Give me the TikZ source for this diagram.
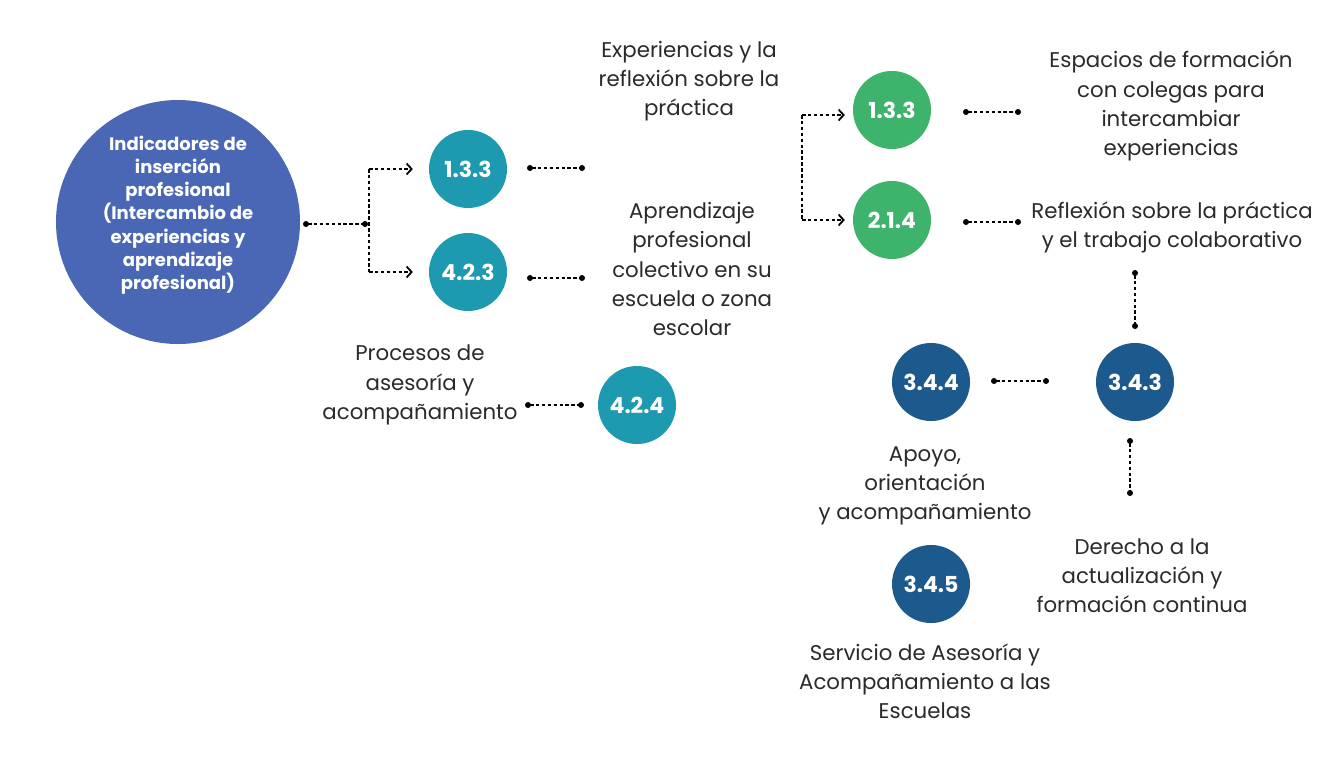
\documentclass[tikz,border=0pt]{standalone}
\usepackage{fontspec}
\setmainfont{Poppins}
\usetikzlibrary{arrows.meta}
\definecolor{bigblue}{HTML}{4A67B6}
\definecolor{cteal}{HTML}{1E9AB0}
\definecolor{cgreen}{HTML}{3DB36B}
\definecolor{cdark}{HTML}{1C5A8E}
\definecolor{ctext}{HTML}{2A2A2A}
\begin{document}
\begin{tikzpicture}[x=1pt,y=-1pt,
  bigc/.style={circle,fill=bigblue,minimum size=244pt,inner sep=0pt},
  bigt/.style={text=white,align=center,inner sep=0pt,font=\bfseries\fontsize{18}{23.2}\selectfont},
  numc/.style={circle,minimum size=78pt,inner sep=0pt,text=white,font=\bfseries\fontsize{22}{24}\selectfont},
  lbl/.style={align=center,text=ctext,font=\fontsize{21.3}{29.2}\selectfont,inner sep=0pt},
  dv/.style={line width=1.8pt,dash pattern=on 3.5pt off 2.4pt},
  dl/.style={dv,shorten <=2pt,shorten >=2pt},
  da/.style={line width=1.8pt,dash pattern=on 3.5pt off 2.4pt,-{Straight Barb[length=5pt,width=11pt,line width=1.8pt]}},
  dot/.style={fill=black}
]
\useasboundingbox (0,0) rectangle (1343,766);
\fill[white] (0,0) rectangle (1343,766);

% main circle
\node[bigc] (main) at (178,222) {};
\node[bigt] (maintext) at ([yshift=7pt]main.center) {Indicadores de\\inserción\\profesional\\(Intercambio de\\experiencias y\\aprendizaje\\profesional)};

% teal circles
\node[numc,fill=cteal] (t133) at (468,169) {1.3.3};
\node[numc,fill=cteal] (t423) at (468,272) {4.2.3};
\node[numc,fill=cteal] (t424) at (637,405) {4.2.4};

% green circles
\node[numc,fill=cgreen] (g133) at (892,110) {1.3.3};
\node[numc,fill=cgreen] (g214) at (892,220) {2.1.4};

% dark blue circles
\node[numc,fill=cdark] (d343) at (1135,382) {3.4.3};
\node[numc,fill=cdark] (d344) at (931,382) {3.4.4};
\node[numc,fill=cdark] (d345) at (931,584) {3.4.5};

% labels
\node[lbl] (lexp) at (689,81) {Experiencias y la\\reflexión sobre la\\práctica};
\node[lbl] (lapr) at (692,269) {Aprendizaje\\profesional\\colectivo en su\\escuela o zona\\escolar};
\node[lbl] (lpro) at (420,385) {Procesos de\\asesoría y\\acompañamiento};
\node[lbl] (lesp) at (1171,106) {Espacios de formación\\con colegas para\\intercambiar\\experiencias};
\node[lbl] (lref) at (1172,227) {Reflexión sobre la práctica\\y el trabajo colaborativo};
\node[lbl] (lder) at (1142,576) {Derecho a la\\actualización y\\formación continua};
\node[lbl] (lapo) at (925,486) {Apoyo,\\orientación\\y acompañamiento};
\node[lbl] (lser) at (925,681) {Servicio de Asesoría y\\Acompañamiento a las\\Escuelas};

% coordinates for connectors
\coordinate (m1) at (306,224);
\coordinate (m2) at (365,224);
\coordinate (va) at (369,169);
\coordinate (vb) at (369,272);
\coordinate (gva) at (802,115);
\coordinate (gvb) at (802,220);

\coordinate (ta1) at (530,168); \coordinate (ta2) at (582,168);
\coordinate (tb1) at (530,278); \coordinate (tb2) at (582,278);
\coordinate (tc1) at (528,405); \coordinate (tc2) at (581,405);
\coordinate (ga1) at (966,112); \coordinate (ga2) at (1018,112);
\coordinate (gb1) at (966,222); \coordinate (gb2) at (1018,222);
\coordinate (dv1) at (1135,273); \coordinate (dv2) at (1135,326);
\coordinate (dh1) at (994,381); \coordinate (dh2) at (1046,381);
\coordinate (dw1) at (1130,441); \coordinate (dw2) at (1130,493);

% main branch
\draw[dv] (va) -- (vb);
\draw[da] (va) -- ([xshift=-16pt]t133.west |- va);
\draw[da] (vb) -- ([xshift=-16pt]t423.west |- vb);

% green branch
\draw[dv] (gva) -- (gvb);
\draw[da] (gva) -- ([xshift=-8pt]g133.west |- gva);
\draw[da] (gvb) -- ([xshift=-8pt]g214.west |- gvb);

% dotted links
\foreach \a/\b in {m1/m2,ta1/ta2,tb1/tb2,tc1/tc2,ga1/ga2,gb1/gb2,dv1/dv2,dh1/dh2,dw1/dw2}{
  \draw[dl] (\a) -- (\b);
  \fill[dot] (\a) circle (3pt);
  \fill[dot] (\b) circle (3pt);
}
\end{tikzpicture}
\end{document}
